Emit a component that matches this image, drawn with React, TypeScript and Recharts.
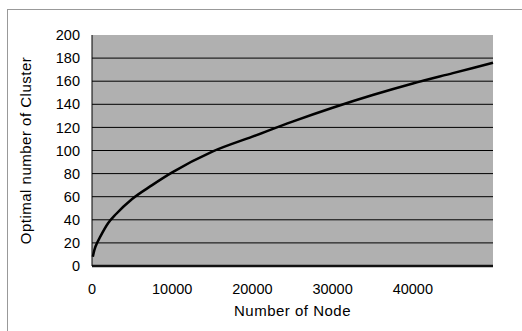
import React from 'react';
import {
  LineChart,
  Line,
  XAxis,
  YAxis,
  CartesianGrid,
} from 'recharts';

// Number of nodes (x) and optimal number of clusters (y)
const nodes = [100, 300, 700, 1000, 2000, 3000, 5000, 7500, 10000, 15000, 20000, 25000, 30000, 35000, 40000, 45000, 50000];
const clusters = [8, 14, 21, 25, 37, 45, 58, 70, 81, 99, 112, 125, 137, 148, 158, 167, 176];

const xTicks = [0, 10000, 20000, 30000, 40000];
const yTicks = [0, 20, 40, 60, 80, 100, 120, 140, 160, 180, 200];
const gridValues = [20, 40, 60, 80, 100, 120, 140, 160, 180];

const data = nodes.map((n, i) => ({ n, c: clusters[i] }));

const font = '"Liberation Sans", Arial, sans-serif';

export default function App() {
  return (
    <div
      style={{
        position: 'absolute',
        left: 0,
        top: 0,
        width: 522,
        height: 331,
        background: '#fff',
        fontFamily: font,
        overflow: 'hidden',
      }}
    >
      {/* outer frame of the chart object */}
      <div
        style={{
          position: 'absolute',
          left: 7,
          top: 9,
          width: 520,
          height: 330,
          borderTop: '1px solid #999',
          borderLeft: '1px solid #999',
        }}
      />
      <div style={{ position: 'absolute', left: 0, top: 0 }}>
        <LineChart
          width={522}
          height={331}
          data={data}
          margin={{ top: 35, right: 29, bottom: 0, left: 0 }}
        >
          <CartesianGrid
            vertical={false}
            horizontalValues={gridValues}
            stroke="#000"
            strokeWidth={1}
            fill="#b0b0b0"
            fillOpacity={1}
          />
          <XAxis
            dataKey="n"
            type="number"
            domain={[0, 50000]}
            ticks={xTicks}
            interval={0}
            tickLine={false}
            tickMargin={12}
            axisLine={{ stroke: '#111', strokeWidth: 2.5 }}
            tick={{ fill: '#000', fontSize: 14.5, fontFamily: font }}
            height={65}
            label={{
              value: 'Number of Node',
              position: 'insideBottom',
              offset: 15,
              fill: '#000',
              fontSize: 15,
              fontFamily: font,
              style: { letterSpacing: 0.5 },
            }}
          />
          <YAxis
            type="number"
            domain={[0, 200]}
            ticks={yTicks}
            interval={0}
            tickLine={false}
            tickMargin={6}
            width={92}
            axisLine={{ stroke: '#000', strokeWidth: 1 }}
            tick={{ fill: '#000', fontSize: 14.5, fontFamily: font }}
            label={{
              value: 'Optimal number of Cluster',
              angle: -90,
              position: 'insideLeft',
              offset: 26,
              fill: '#000',
              fontSize: 15,
              fontFamily: font,
              style: { textAnchor: 'middle', letterSpacing: 0.5 },
            }}
          />
          <Line
            type="monotone"
            dataKey="c"
            stroke="#000"
            strokeWidth={2.5}
            dot={false}
            isAnimationActive={false}
          />
        </LineChart>
      </div>
    </div>
  );
}
